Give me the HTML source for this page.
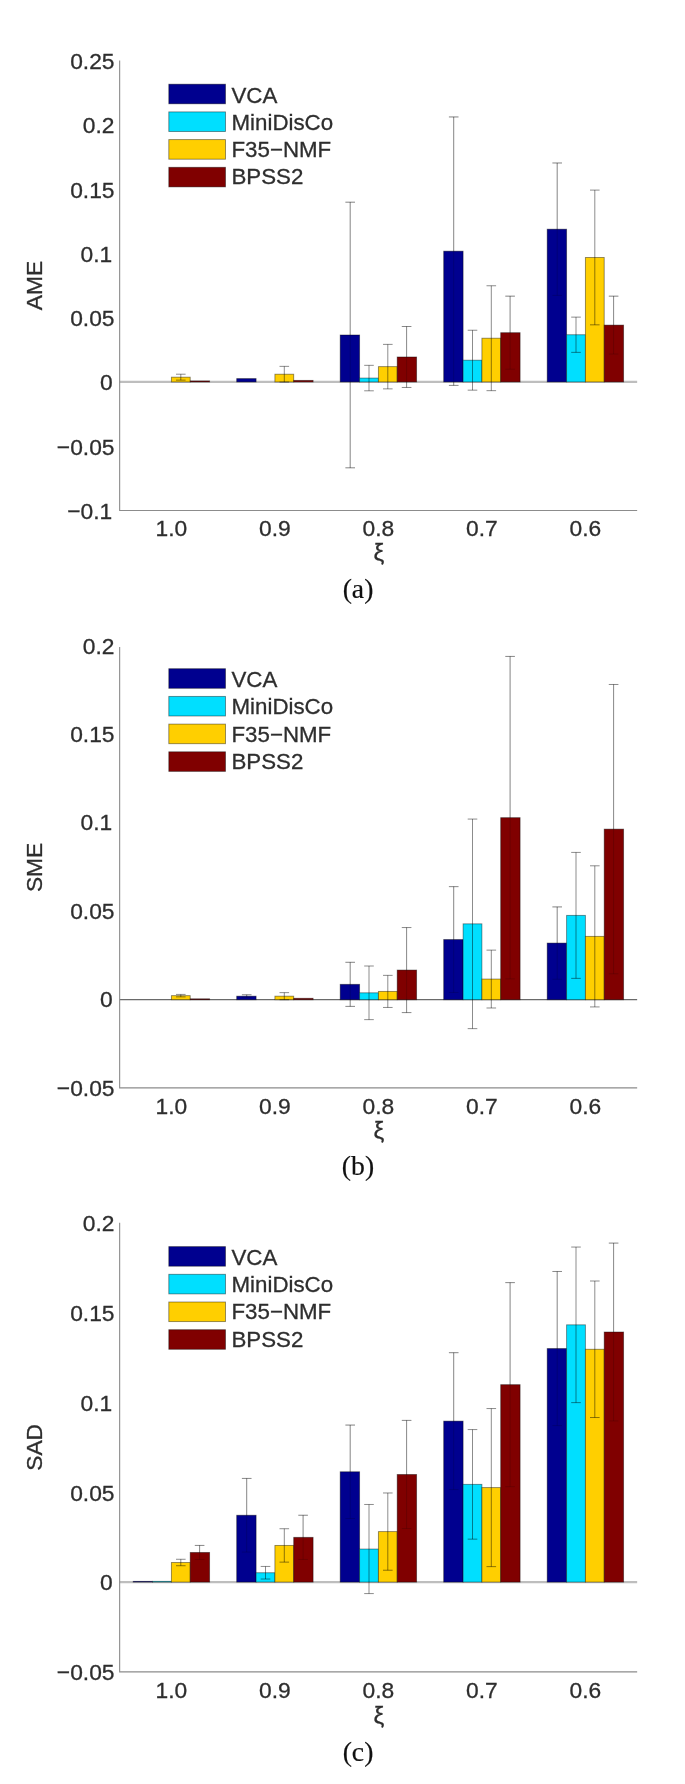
<!DOCTYPE html>
<html lang="en"><head><meta charset="utf-8"><title>Bar charts</title>
<style>html,body{margin:0;padding:0;background:#fff}svg{display:block;filter:blur(0.45px)}text{font-family:"Liberation Sans",Arial,sans-serif;fill:#2e2e2e;stroke:#2e2e2e;stroke-width:0.3px}.cap{font-family:"Liberation Serif","Times New Roman",serif;fill:#111;stroke:#111;stroke-width:0.2px}</style></head><body>
<svg width="685" height="1784" viewBox="0 0 685 1784">
<rect width="685" height="1784" fill="#fff"/>
<g>
<line x1="119.65" y1="381.93" x2="637.15" y2="381.93" stroke="#bebebe" stroke-width="2.3"/>
<rect x="171.40" y="377.17" width="18.80" height="4.76" fill="#ffcf00" stroke="#000" stroke-opacity="0.45" stroke-width="0.9"/>
<path d="M180.80 374.21V380.13M176.00 374.21h9.6M176.00 380.13h9.6" fill="none" stroke="#000" stroke-opacity="0.45" stroke-width="1"/>
<rect x="190.20" y="380.90" width="19.40" height="1.03" fill="#800000" stroke="#000" stroke-opacity="0.45" stroke-width="0.9"/>
<rect x="236.70" y="378.59" width="19.40" height="3.34" fill="#00008f" stroke="#000" stroke-opacity="0.45" stroke-width="0.9"/>
<rect x="274.90" y="374.21" width="18.80" height="7.71" fill="#ffcf00" stroke="#000" stroke-opacity="0.45" stroke-width="0.9"/>
<path d="M284.30 366.37V382.06M279.50 366.37h9.6M279.50 382.06h9.6" fill="none" stroke="#000" stroke-opacity="0.45" stroke-width="1"/>
<rect x="293.70" y="380.39" width="19.40" height="1.54" fill="#800000" stroke="#000" stroke-opacity="0.45" stroke-width="0.9"/>
<path d="M350.20 202.19V467.81M345.40 202.19h9.6M345.40 467.81h9.6" fill="none" stroke="#000" stroke-opacity="0.36" stroke-width="1"/>
<rect x="340.20" y="335.00" width="19.40" height="46.93" fill="#00008f" stroke="#000" stroke-opacity="0.45" stroke-width="0.9"/>
<path d="M350.20 202.19V467.81M345.40 202.19h9.6M345.40 467.81h9.6" fill="none" stroke="#000" stroke-opacity="0.16" stroke-width="1"/>
<rect x="359.60" y="378.07" width="18.80" height="3.86" fill="#00dfff" stroke="#000" stroke-opacity="0.45" stroke-width="0.9"/>
<path d="M369.00 365.34V390.80M364.20 365.34h9.6M364.20 390.80h9.6" fill="none" stroke="#000" stroke-opacity="0.45" stroke-width="1"/>
<rect x="378.40" y="366.63" width="18.80" height="15.30" fill="#ffcf00" stroke="#000" stroke-opacity="0.45" stroke-width="0.9"/>
<path d="M387.80 344.39V388.87M383.00 344.39h9.6M383.00 388.87h9.6" fill="none" stroke="#000" stroke-opacity="0.45" stroke-width="1"/>
<path d="M406.60 326.51V387.46M401.80 326.51h9.6M401.80 387.46h9.6" fill="none" stroke="#000" stroke-opacity="0.36" stroke-width="1"/>
<rect x="397.20" y="356.99" width="19.40" height="24.94" fill="#800000" stroke="#000" stroke-opacity="0.45" stroke-width="0.9"/>
<path d="M406.60 326.51V387.46M401.80 326.51h9.6M401.80 387.46h9.6" fill="none" stroke="#000" stroke-opacity="0.16" stroke-width="1"/>
<path d="M453.70 116.94V385.40M448.90 116.94h9.6M448.90 385.40h9.6" fill="none" stroke="#000" stroke-opacity="0.36" stroke-width="1"/>
<rect x="443.70" y="251.17" width="19.40" height="130.76" fill="#00008f" stroke="#000" stroke-opacity="0.45" stroke-width="0.9"/>
<path d="M453.70 116.94V385.40M448.90 116.94h9.6M448.90 385.40h9.6" fill="none" stroke="#000" stroke-opacity="0.16" stroke-width="1"/>
<rect x="463.10" y="360.20" width="18.80" height="21.73" fill="#00dfff" stroke="#000" stroke-opacity="0.45" stroke-width="0.9"/>
<path d="M472.50 330.24V390.16M467.70 330.24h9.6M467.70 390.16h9.6" fill="none" stroke="#000" stroke-opacity="0.45" stroke-width="1"/>
<rect x="481.90" y="338.21" width="18.80" height="43.71" fill="#ffcf00" stroke="#000" stroke-opacity="0.45" stroke-width="0.9"/>
<path d="M491.30 285.76V390.67M486.50 285.76h9.6M486.50 390.67h9.6" fill="none" stroke="#000" stroke-opacity="0.45" stroke-width="1"/>
<path d="M510.10 296.17V369.20M505.30 296.17h9.6M505.30 369.20h9.6" fill="none" stroke="#000" stroke-opacity="0.36" stroke-width="1"/>
<rect x="500.70" y="332.69" width="19.40" height="49.24" fill="#800000" stroke="#000" stroke-opacity="0.45" stroke-width="0.9"/>
<path d="M510.10 296.17V369.20M505.30 296.17h9.6M505.30 369.20h9.6" fill="none" stroke="#000" stroke-opacity="0.16" stroke-width="1"/>
<path d="M557.20 162.97V295.40M552.40 162.97h9.6M552.40 295.40h9.6" fill="none" stroke="#000" stroke-opacity="0.36" stroke-width="1"/>
<rect x="547.20" y="229.19" width="19.40" height="152.74" fill="#00008f" stroke="#000" stroke-opacity="0.45" stroke-width="0.9"/>
<path d="M557.20 162.97V295.40M552.40 162.97h9.6M552.40 295.40h9.6" fill="none" stroke="#000" stroke-opacity="0.16" stroke-width="1"/>
<rect x="566.60" y="334.74" width="18.80" height="47.19" fill="#00dfff" stroke="#000" stroke-opacity="0.45" stroke-width="0.9"/>
<path d="M576.00 317.13V352.36M571.20 317.13h9.6M571.20 352.36h9.6" fill="none" stroke="#000" stroke-opacity="0.45" stroke-width="1"/>
<rect x="585.40" y="257.47" width="18.80" height="124.46" fill="#ffcf00" stroke="#000" stroke-opacity="0.45" stroke-width="0.9"/>
<path d="M594.80 190.10V324.84M590.00 190.10h9.6M590.00 324.84h9.6" fill="none" stroke="#000" stroke-opacity="0.45" stroke-width="1"/>
<path d="M613.60 296.17V354.03M608.80 296.17h9.6M608.80 354.03h9.6" fill="none" stroke="#000" stroke-opacity="0.36" stroke-width="1"/>
<rect x="604.20" y="325.10" width="19.40" height="56.83" fill="#800000" stroke="#000" stroke-opacity="0.45" stroke-width="0.9"/>
<path d="M613.60 296.17V354.03M608.80 296.17h9.6M608.80 354.03h9.6" fill="none" stroke="#000" stroke-opacity="0.16" stroke-width="1"/>
<path d="M119.65 60.50V510.50H637.15" fill="none" stroke="#8c8c8c" stroke-width="1.1"/>
<text x="114.50" y="69.00" font-size="22.8" text-anchor="end">0.25</text>
<text x="114.50" y="133.29" font-size="22.8" text-anchor="end">0.2</text>
<text x="114.50" y="197.57" font-size="22.8" text-anchor="end">0.15</text>
<text x="112.30" y="261.86" font-size="22.8" text-anchor="end">0.1</text>
<text x="114.50" y="326.14" font-size="22.8" text-anchor="end">0.05</text>
<text x="112.70" y="390.43" font-size="22.8" text-anchor="end">0</text>
<text x="114.50" y="454.71" font-size="22.8" text-anchor="end">−0.05</text>
<text x="112.30" y="519.00" font-size="22.8" text-anchor="end">−0.1</text>
<text x="171.40" y="536.30" font-size="22.8" text-anchor="middle">1.0</text>
<text x="274.90" y="536.30" font-size="22.8" text-anchor="middle">0.9</text>
<text x="378.40" y="536.30" font-size="22.8" text-anchor="middle">0.8</text>
<text x="481.90" y="536.30" font-size="22.8" text-anchor="middle">0.7</text>
<text x="585.40" y="536.30" font-size="22.8" text-anchor="middle">0.6</text>
<text x="378.80" y="561.10" font-size="24" text-anchor="middle" fill="#555">ξ</text>
<text transform="translate(42.2,285.50) rotate(-90)" font-size="22.8" text-anchor="middle">AME</text>
<rect x="168.8" y="84.20" width="56.7" height="19.6" fill="#00008f" stroke="#000" stroke-opacity="0.45" stroke-width="0.9"/>
<text x="231.5" y="102.60" font-size="22.3">VCA</text>
<rect x="168.8" y="111.90" width="56.7" height="19.6" fill="#00dfff" stroke="#000" stroke-opacity="0.45" stroke-width="0.9"/>
<text x="231.5" y="129.80" font-size="22.3">MiniDisCo</text>
<rect x="168.8" y="139.60" width="56.7" height="19.6" fill="#ffcf00" stroke="#000" stroke-opacity="0.45" stroke-width="0.9"/>
<text x="231.5" y="157.00" font-size="22.3">F35−NMF</text>
<rect x="168.8" y="167.30" width="56.7" height="19.6" fill="#800000" stroke="#000" stroke-opacity="0.45" stroke-width="0.9"/>
<text x="231.5" y="184.20" font-size="22.3">BPSS2</text>
<text class="cap" x="358.00" y="598.00" font-size="27.7" text-anchor="middle">(a)</text>
</g>
<g>
<line x1="119.65" y1="999.70" x2="637.15" y2="999.70" stroke="#6a6a6a" stroke-width="1.2"/>
<rect x="171.40" y="995.64" width="18.80" height="4.06" fill="#ffcf00" stroke="#000" stroke-opacity="0.45" stroke-width="0.9"/>
<path d="M180.80 994.41V996.88M176.00 994.41h9.6M176.00 996.88h9.6" fill="none" stroke="#000" stroke-opacity="0.45" stroke-width="1"/>
<rect x="190.20" y="998.82" width="19.40" height="0.88" fill="#800000" stroke="#000" stroke-opacity="0.45" stroke-width="0.9"/>
<path d="M246.70 994.76V997.58M241.90 994.76h9.6M241.90 997.58h9.6" fill="none" stroke="#000" stroke-opacity="0.36" stroke-width="1"/>
<rect x="236.70" y="996.17" width="19.40" height="3.53" fill="#00008f" stroke="#000" stroke-opacity="0.45" stroke-width="0.9"/>
<path d="M246.70 994.76V997.58M241.90 994.76h9.6M241.90 997.58h9.6" fill="none" stroke="#000" stroke-opacity="0.16" stroke-width="1"/>
<rect x="274.90" y="996.17" width="18.80" height="3.53" fill="#ffcf00" stroke="#000" stroke-opacity="0.45" stroke-width="0.9"/>
<path d="M284.30 992.64V999.70M279.50 992.64h9.6M279.50 999.70h9.6" fill="none" stroke="#000" stroke-opacity="0.45" stroke-width="1"/>
<rect x="293.70" y="998.29" width="19.40" height="1.41" fill="#800000" stroke="#000" stroke-opacity="0.45" stroke-width="0.9"/>
<path d="M350.20 962.30V1006.40M345.40 962.30h9.6M345.40 1006.40h9.6" fill="none" stroke="#000" stroke-opacity="0.36" stroke-width="1"/>
<rect x="340.20" y="984.35" width="19.40" height="15.35" fill="#00008f" stroke="#000" stroke-opacity="0.45" stroke-width="0.9"/>
<path d="M350.20 962.30V1006.40M345.40 962.30h9.6M345.40 1006.40h9.6" fill="none" stroke="#000" stroke-opacity="0.16" stroke-width="1"/>
<rect x="359.60" y="992.82" width="18.80" height="6.88" fill="#00dfff" stroke="#000" stroke-opacity="0.45" stroke-width="0.9"/>
<path d="M369.00 966.01V1019.63M364.20 966.01h9.6M364.20 1019.63h9.6" fill="none" stroke="#000" stroke-opacity="0.45" stroke-width="1"/>
<rect x="378.40" y="991.41" width="18.80" height="8.29" fill="#ffcf00" stroke="#000" stroke-opacity="0.45" stroke-width="0.9"/>
<path d="M387.80 975.36V1007.46M383.00 975.36h9.6M383.00 1007.46h9.6" fill="none" stroke="#000" stroke-opacity="0.45" stroke-width="1"/>
<path d="M406.60 927.55V1012.58M401.80 927.55h9.6M401.80 1012.58h9.6" fill="none" stroke="#000" stroke-opacity="0.36" stroke-width="1"/>
<rect x="397.20" y="970.06" width="19.40" height="29.64" fill="#800000" stroke="#000" stroke-opacity="0.45" stroke-width="0.9"/>
<path d="M406.60 927.55V1012.58M401.80 927.55h9.6M401.80 1012.58h9.6" fill="none" stroke="#000" stroke-opacity="0.16" stroke-width="1"/>
<path d="M453.70 886.63V992.47M448.90 886.63h9.6M448.90 992.47h9.6" fill="none" stroke="#000" stroke-opacity="0.36" stroke-width="1"/>
<rect x="443.70" y="939.55" width="19.40" height="60.15" fill="#00008f" stroke="#000" stroke-opacity="0.45" stroke-width="0.9"/>
<path d="M453.70 886.63V992.47M448.90 886.63h9.6M448.90 992.47h9.6" fill="none" stroke="#000" stroke-opacity="0.16" stroke-width="1"/>
<rect x="463.10" y="923.85" width="18.80" height="75.85" fill="#00dfff" stroke="#000" stroke-opacity="0.45" stroke-width="0.9"/>
<path d="M472.50 819.07V1028.63M467.70 819.07h9.6M467.70 1028.63h9.6" fill="none" stroke="#000" stroke-opacity="0.45" stroke-width="1"/>
<rect x="481.90" y="979.06" width="18.80" height="20.64" fill="#ffcf00" stroke="#000" stroke-opacity="0.45" stroke-width="0.9"/>
<path d="M491.30 950.13V1007.99M486.50 950.13h9.6M486.50 1007.99h9.6" fill="none" stroke="#000" stroke-opacity="0.45" stroke-width="1"/>
<path d="M510.10 656.43V978.88M505.30 656.43h9.6M505.30 978.88h9.6" fill="none" stroke="#000" stroke-opacity="0.36" stroke-width="1"/>
<rect x="500.70" y="817.66" width="19.40" height="182.04" fill="#800000" stroke="#000" stroke-opacity="0.45" stroke-width="0.9"/>
<path d="M510.10 656.43V978.88M505.30 656.43h9.6M505.30 978.88h9.6" fill="none" stroke="#000" stroke-opacity="0.16" stroke-width="1"/>
<path d="M557.20 906.91V979.24M552.40 906.91h9.6M552.40 979.24h9.6" fill="none" stroke="#000" stroke-opacity="0.36" stroke-width="1"/>
<rect x="547.20" y="943.08" width="19.40" height="56.62" fill="#00008f" stroke="#000" stroke-opacity="0.45" stroke-width="0.9"/>
<path d="M557.20 906.91V979.24M552.40 906.91h9.6M552.40 979.24h9.6" fill="none" stroke="#000" stroke-opacity="0.16" stroke-width="1"/>
<rect x="566.60" y="915.38" width="18.80" height="84.32" fill="#00dfff" stroke="#000" stroke-opacity="0.45" stroke-width="0.9"/>
<path d="M576.00 852.41V978.36M571.20 852.41h9.6M571.20 978.36h9.6" fill="none" stroke="#000" stroke-opacity="0.45" stroke-width="1"/>
<rect x="585.40" y="936.37" width="18.80" height="63.33" fill="#ffcf00" stroke="#000" stroke-opacity="0.45" stroke-width="0.9"/>
<path d="M594.80 865.81V1006.93M590.00 865.81h9.6M590.00 1006.93h9.6" fill="none" stroke="#000" stroke-opacity="0.45" stroke-width="1"/>
<path d="M613.60 684.47V973.77M608.80 684.47h9.6M608.80 973.77h9.6" fill="none" stroke="#000" stroke-opacity="0.36" stroke-width="1"/>
<rect x="604.20" y="829.12" width="19.40" height="170.58" fill="#800000" stroke="#000" stroke-opacity="0.45" stroke-width="0.9"/>
<path d="M613.60 684.47V973.77M608.80 684.47h9.6M608.80 973.77h9.6" fill="none" stroke="#000" stroke-opacity="0.16" stroke-width="1"/>
<path d="M119.65 646.90V1087.90H637.15" fill="none" stroke="#8c8c8c" stroke-width="1.1"/>
<text x="114.50" y="653.70" font-size="22.8" text-anchor="end">0.2</text>
<text x="114.50" y="742.06" font-size="22.8" text-anchor="end">0.15</text>
<text x="112.30" y="830.42" font-size="22.8" text-anchor="end">0.1</text>
<text x="114.50" y="918.78" font-size="22.8" text-anchor="end">0.05</text>
<text x="112.70" y="1007.14" font-size="22.8" text-anchor="end">0</text>
<text x="114.50" y="1095.50" font-size="22.8" text-anchor="end">−0.05</text>
<text x="171.40" y="1113.70" font-size="22.8" text-anchor="middle">1.0</text>
<text x="274.90" y="1113.70" font-size="22.8" text-anchor="middle">0.9</text>
<text x="378.40" y="1113.70" font-size="22.8" text-anchor="middle">0.8</text>
<text x="481.90" y="1113.70" font-size="22.8" text-anchor="middle">0.7</text>
<text x="585.40" y="1113.70" font-size="22.8" text-anchor="middle">0.6</text>
<text x="378.80" y="1138.50" font-size="24" text-anchor="middle" fill="#555">ξ</text>
<text transform="translate(42.2,867.40) rotate(-90)" font-size="22.8" text-anchor="middle">SME</text>
<rect x="168.8" y="668.70" width="56.7" height="19.6" fill="#00008f" stroke="#000" stroke-opacity="0.45" stroke-width="0.9"/>
<text x="231.5" y="687.10" font-size="22.3">VCA</text>
<rect x="168.8" y="696.40" width="56.7" height="19.6" fill="#00dfff" stroke="#000" stroke-opacity="0.45" stroke-width="0.9"/>
<text x="231.5" y="714.30" font-size="22.3">MiniDisCo</text>
<rect x="168.8" y="724.10" width="56.7" height="19.6" fill="#ffcf00" stroke="#000" stroke-opacity="0.45" stroke-width="0.9"/>
<text x="231.5" y="741.50" font-size="22.3">F35−NMF</text>
<rect x="168.8" y="751.80" width="56.7" height="19.6" fill="#800000" stroke="#000" stroke-opacity="0.45" stroke-width="0.9"/>
<text x="231.5" y="768.70" font-size="22.3">BPSS2</text>
<text class="cap" x="358.00" y="1175.40" font-size="27.7" text-anchor="middle">(b)</text>
</g>
<g>
<line x1="119.65" y1="1582.08" x2="637.15" y2="1582.08" stroke="#bebebe" stroke-width="2.3"/>
<rect x="133.20" y="1581.36" width="19.40" height="0.72" fill="#00008f" stroke="#000" stroke-opacity="0.45" stroke-width="0.9"/>
<rect x="152.60" y="1581.36" width="18.80" height="0.72" fill="#00dfff" stroke="#000" stroke-opacity="0.45" stroke-width="0.9"/>
<rect x="171.40" y="1562.50" width="18.80" height="19.58" fill="#ffcf00" stroke="#000" stroke-opacity="0.45" stroke-width="0.9"/>
<path d="M180.80 1559.27V1565.73M176.00 1559.27h9.6M176.00 1565.73h9.6" fill="none" stroke="#000" stroke-opacity="0.45" stroke-width="1"/>
<path d="M199.60 1545.43V1559.45M194.80 1545.43h9.6M194.80 1559.45h9.6" fill="none" stroke="#000" stroke-opacity="0.36" stroke-width="1"/>
<rect x="190.20" y="1552.44" width="19.40" height="29.64" fill="#800000" stroke="#000" stroke-opacity="0.45" stroke-width="0.9"/>
<path d="M199.60 1545.43V1559.45M194.80 1545.43h9.6M194.80 1559.45h9.6" fill="none" stroke="#000" stroke-opacity="0.16" stroke-width="1"/>
<path d="M246.70 1478.43V1552.08M241.90 1478.43h9.6M241.90 1552.08h9.6" fill="none" stroke="#000" stroke-opacity="0.36" stroke-width="1"/>
<rect x="236.70" y="1515.25" width="19.40" height="66.83" fill="#00008f" stroke="#000" stroke-opacity="0.45" stroke-width="0.9"/>
<path d="M246.70 1478.43V1552.08M241.90 1478.43h9.6M241.90 1552.08h9.6" fill="none" stroke="#000" stroke-opacity="0.16" stroke-width="1"/>
<rect x="256.10" y="1572.74" width="18.80" height="9.34" fill="#00dfff" stroke="#000" stroke-opacity="0.45" stroke-width="0.9"/>
<path d="M265.50 1566.45V1579.03M260.70 1566.45h9.6M260.70 1579.03h9.6" fill="none" stroke="#000" stroke-opacity="0.45" stroke-width="1"/>
<rect x="274.90" y="1545.43" width="18.80" height="36.65" fill="#ffcf00" stroke="#000" stroke-opacity="0.45" stroke-width="0.9"/>
<path d="M284.30 1528.73V1562.14M279.50 1528.73h9.6M279.50 1562.14h9.6" fill="none" stroke="#000" stroke-opacity="0.45" stroke-width="1"/>
<path d="M303.10 1515.25V1559.45M298.30 1515.25h9.6M298.30 1559.45h9.6" fill="none" stroke="#000" stroke-opacity="0.36" stroke-width="1"/>
<rect x="293.70" y="1537.35" width="19.40" height="44.73" fill="#800000" stroke="#000" stroke-opacity="0.45" stroke-width="0.9"/>
<path d="M303.10 1515.25V1559.45M298.30 1515.25h9.6M298.30 1559.45h9.6" fill="none" stroke="#000" stroke-opacity="0.16" stroke-width="1"/>
<path d="M350.20 1425.07V1518.49M345.40 1425.07h9.6M345.40 1518.49h9.6" fill="none" stroke="#000" stroke-opacity="0.36" stroke-width="1"/>
<rect x="340.20" y="1471.78" width="19.40" height="110.30" fill="#00008f" stroke="#000" stroke-opacity="0.45" stroke-width="0.9"/>
<path d="M350.20 1425.07V1518.49M345.40 1425.07h9.6M345.40 1518.49h9.6" fill="none" stroke="#000" stroke-opacity="0.16" stroke-width="1"/>
<rect x="359.60" y="1549.03" width="18.80" height="33.05" fill="#00dfff" stroke="#000" stroke-opacity="0.45" stroke-width="0.9"/>
<path d="M369.00 1504.48V1593.58M364.20 1504.48h9.6M364.20 1593.58h9.6" fill="none" stroke="#000" stroke-opacity="0.45" stroke-width="1"/>
<rect x="378.40" y="1531.60" width="18.80" height="50.48" fill="#ffcf00" stroke="#000" stroke-opacity="0.45" stroke-width="0.9"/>
<path d="M387.80 1492.98V1570.22M383.00 1492.98h9.6M383.00 1570.22h9.6" fill="none" stroke="#000" stroke-opacity="0.45" stroke-width="1"/>
<path d="M406.60 1420.40V1528.55M401.80 1420.40h9.6M401.80 1528.55h9.6" fill="none" stroke="#000" stroke-opacity="0.36" stroke-width="1"/>
<rect x="397.20" y="1474.48" width="19.40" height="107.60" fill="#800000" stroke="#000" stroke-opacity="0.45" stroke-width="0.9"/>
<path d="M406.60 1420.40V1528.55M401.80 1420.40h9.6M401.80 1528.55h9.6" fill="none" stroke="#000" stroke-opacity="0.16" stroke-width="1"/>
<path d="M453.70 1352.68V1489.57M448.90 1352.68h9.6M448.90 1489.57h9.6" fill="none" stroke="#000" stroke-opacity="0.36" stroke-width="1"/>
<rect x="443.70" y="1421.12" width="19.40" height="160.96" fill="#00008f" stroke="#000" stroke-opacity="0.45" stroke-width="0.9"/>
<path d="M453.70 1352.68V1489.57M448.90 1352.68h9.6M448.90 1489.57h9.6" fill="none" stroke="#000" stroke-opacity="0.16" stroke-width="1"/>
<rect x="463.10" y="1484.36" width="18.80" height="97.72" fill="#00dfff" stroke="#000" stroke-opacity="0.45" stroke-width="0.9"/>
<path d="M472.50 1429.57V1539.15M467.70 1429.57h9.6M467.70 1539.15h9.6" fill="none" stroke="#000" stroke-opacity="0.45" stroke-width="1"/>
<rect x="481.90" y="1487.59" width="18.80" height="94.49" fill="#ffcf00" stroke="#000" stroke-opacity="0.45" stroke-width="0.9"/>
<path d="M491.30 1408.55V1566.63M486.50 1408.55h9.6M486.50 1566.63h9.6" fill="none" stroke="#000" stroke-opacity="0.45" stroke-width="1"/>
<path d="M510.10 1282.62V1486.69M505.30 1282.62h9.6M505.30 1486.69h9.6" fill="none" stroke="#000" stroke-opacity="0.36" stroke-width="1"/>
<rect x="500.70" y="1384.66" width="19.40" height="197.42" fill="#800000" stroke="#000" stroke-opacity="0.45" stroke-width="0.9"/>
<path d="M510.10 1282.62V1486.69M505.30 1282.62h9.6M505.30 1486.69h9.6" fill="none" stroke="#000" stroke-opacity="0.16" stroke-width="1"/>
<path d="M557.20 1271.48V1425.61M552.40 1271.48h9.6M552.40 1425.61h9.6" fill="none" stroke="#000" stroke-opacity="0.36" stroke-width="1"/>
<rect x="547.20" y="1348.55" width="19.40" height="233.53" fill="#00008f" stroke="#000" stroke-opacity="0.45" stroke-width="0.9"/>
<path d="M557.20 1271.48V1425.61M552.40 1271.48h9.6M552.40 1425.61h9.6" fill="none" stroke="#000" stroke-opacity="0.16" stroke-width="1"/>
<rect x="566.60" y="1324.84" width="18.80" height="257.24" fill="#00dfff" stroke="#000" stroke-opacity="0.45" stroke-width="0.9"/>
<path d="M576.00 1247.05V1402.62M571.20 1247.05h9.6M571.20 1402.62h9.6" fill="none" stroke="#000" stroke-opacity="0.45" stroke-width="1"/>
<rect x="585.40" y="1349.27" width="18.80" height="232.81" fill="#ffcf00" stroke="#000" stroke-opacity="0.45" stroke-width="0.9"/>
<path d="M594.80 1281.00V1417.53M590.00 1281.00h9.6M590.00 1417.53h9.6" fill="none" stroke="#000" stroke-opacity="0.45" stroke-width="1"/>
<path d="M613.60 1243.10V1420.94M608.80 1243.10h9.6M608.80 1420.94h9.6" fill="none" stroke="#000" stroke-opacity="0.36" stroke-width="1"/>
<rect x="604.20" y="1332.02" width="19.40" height="250.06" fill="#800000" stroke="#000" stroke-opacity="0.45" stroke-width="0.9"/>
<path d="M613.60 1243.10V1420.94M608.80 1243.10h9.6M608.80 1420.94h9.6" fill="none" stroke="#000" stroke-opacity="0.16" stroke-width="1"/>
<path d="M119.65 1222.80V1671.90H637.15" fill="none" stroke="#8c8c8c" stroke-width="1.1"/>
<text x="114.50" y="1231.10" font-size="22.8" text-anchor="end">0.2</text>
<text x="114.50" y="1320.92" font-size="22.8" text-anchor="end">0.15</text>
<text x="112.30" y="1410.74" font-size="22.8" text-anchor="end">0.1</text>
<text x="114.50" y="1500.56" font-size="22.8" text-anchor="end">0.05</text>
<text x="112.70" y="1590.38" font-size="22.8" text-anchor="end">0</text>
<text x="114.50" y="1680.20" font-size="22.8" text-anchor="end">−0.05</text>
<text x="171.40" y="1698.30" font-size="22.8" text-anchor="middle">1.0</text>
<text x="274.90" y="1698.30" font-size="22.8" text-anchor="middle">0.9</text>
<text x="378.40" y="1698.30" font-size="22.8" text-anchor="middle">0.8</text>
<text x="481.90" y="1698.30" font-size="22.8" text-anchor="middle">0.7</text>
<text x="585.40" y="1698.30" font-size="22.8" text-anchor="middle">0.6</text>
<text x="378.80" y="1724.00" font-size="24" text-anchor="middle" fill="#555">ξ</text>
<text transform="translate(42.2,1447.35) rotate(-90)" font-size="22.8" text-anchor="middle">SAD</text>
<rect x="168.8" y="1246.60" width="56.7" height="19.6" fill="#00008f" stroke="#000" stroke-opacity="0.45" stroke-width="0.9"/>
<text x="231.5" y="1265.00" font-size="22.3">VCA</text>
<rect x="168.8" y="1274.30" width="56.7" height="19.6" fill="#00dfff" stroke="#000" stroke-opacity="0.45" stroke-width="0.9"/>
<text x="231.5" y="1292.20" font-size="22.3">MiniDisCo</text>
<rect x="168.8" y="1302.00" width="56.7" height="19.6" fill="#ffcf00" stroke="#000" stroke-opacity="0.45" stroke-width="0.9"/>
<text x="231.5" y="1319.40" font-size="22.3">F35−NMF</text>
<rect x="168.8" y="1329.70" width="56.7" height="19.6" fill="#800000" stroke="#000" stroke-opacity="0.45" stroke-width="0.9"/>
<text x="231.5" y="1346.60" font-size="22.3">BPSS2</text>
<text class="cap" x="358.00" y="1760.60" font-size="27.7" text-anchor="middle">(c)</text>
</g>
</svg></body></html>
